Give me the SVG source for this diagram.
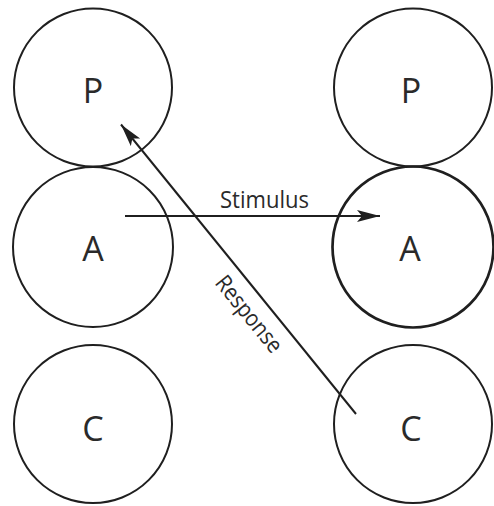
<svg xmlns="http://www.w3.org/2000/svg" width="494" height="506" viewBox="0 0 494 506">
<style>
.node circle{fill:none;stroke:#1f1f1f;stroke-width:2}
.lbl{font-family:"Open Sans","Liberation Sans",sans-serif;font-size:34px;fill:#2a2a2a;text-anchor:middle}
.edge{stroke:#1f1f1f;stroke-width:2;fill:none}
.elbl{font-family:"Open Sans","Liberation Sans",sans-serif;font-size:23px;fill:#2a2a2a;text-anchor:middle}
</style>
<defs>
<marker id="ah" markerWidth="24" markerHeight="14" refX="23" refY="7" orient="auto" markerUnits="userSpaceOnUse">
<path d="M0,1 L23,7 L0,13 L5,7 Z" fill="#1f1f1f"/>
</marker>
</defs>
<rect width="494" height="506" fill="#fff"/>
<g id="P1" class="node"><circle cx="93" cy="87.5" r="79"/><text class="lbl" x="93" y="103">P</text></g>
<g id="A1" class="node"><circle cx="93" cy="247" r="80"/><text class="lbl" x="93" y="261">A</text></g>
<g id="C1" class="node"><circle cx="93" cy="424" r="79"/><text class="lbl" x="93" y="440.5">C</text></g>
<g id="P2" class="node"><circle cx="413" cy="87.5" r="79"/><text class="lbl" x="411" y="103">P</text></g>
<g id="A2" class="node"><circle cx="413" cy="247" r="80.5" style="stroke-width:2.7"/><text class="lbl" x="410" y="261">A</text></g>
<g id="C2" class="node"><circle cx="413" cy="424" r="79"/><text class="lbl" x="411" y="440.5">C</text></g>
<g id="connectors">
<line class="edge" x1="125" y1="216" x2="380" y2="216" marker-end="url(#ah)"/>
<text class="elbl" x="264.5" y="207.7" textLength="89" lengthAdjust="spacingAndGlyphs">Stimulus</text>
<line class="edge" x1="356" y1="414" x2="121" y2="124.5" marker-end="url(#ah)"/>
<text class="elbl" transform="translate(243,319) rotate(51)" x="0" y="0" textLength="92" lengthAdjust="spacingAndGlyphs">Response</text>
</g>
</svg>
